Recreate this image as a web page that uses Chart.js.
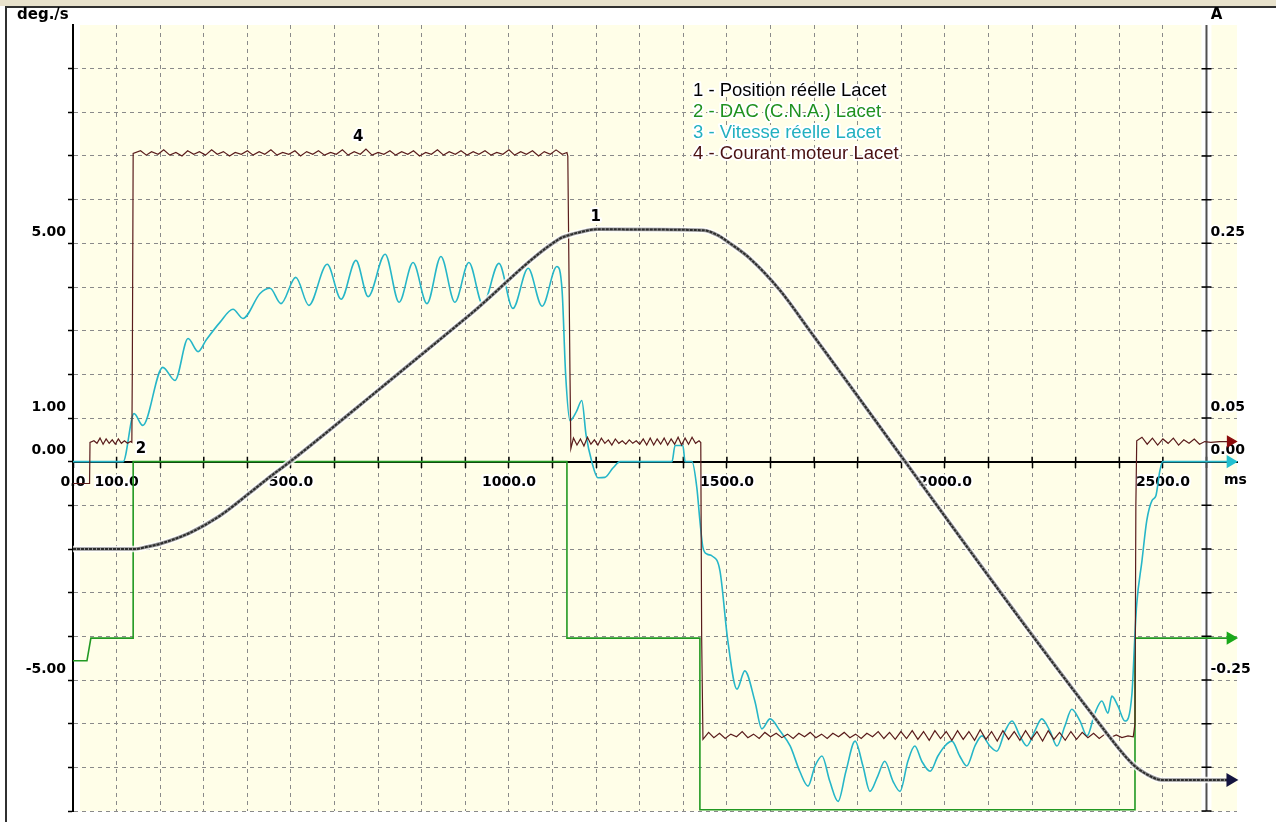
<!DOCTYPE html>
<html>
<head>
<meta charset="utf-8">
<script src="https://cdn.jsdelivr.net/npm/chart.js@4.4.1/dist/chart.umd.min.js"></script>
<style>
  html, body { margin: 0; padding: 0; background: #fff; }
</style>
</head>
<body>
<canvas id="scope" width="1276" height="822"></canvas>
<script>
// Time axis (ms) and tick labels
const timeLabels = [0, 100, 500, 1000, 1500, 2000, 2500];
const degLabels = [5, 1, 0, -5];
const ampLabels = [0.25, 0.05, 0, -0.25];

const legendLines = [
    { text: "1 - Position réelle Lacet", color: "#000000" },
    { text: "2 - DAC (C.N.A.) Lacet", color: "#1f911f" },
    { text: "3 - Vitesse réelle Lacet", color: "#22b0c0" },
    { text: "4 - Courant moteur Lacet", color: "#4a1212" },
];

// Curve numbers written on the plot [ms, deg./s]
const markers = [
    { text: "1", t: 1199, v: 5.6 },
    { text: "2", t: 156, v: 0.28 },
    { text: "4", t: 654, v: 7.43 },
];

// 1 - Position réelle (left axis)
const position = [
    [0, -2.0], [142, -2.0], [170, -1.95], [200, -1.88], [268, -1.63], [337, -1.24],
    [406, -0.71], [450, -0.36], [498, 0], [704, 1.67], [911, 3.37], [1117, 5.11],
    [1135, 5.18], [1161, 5.25], [1201, 5.32], [1445, 5.30], [1480, 5.18], [1507, 5.0],
    [1552, 4.66], [1622, 3.92], [1690, 3.0], [2355, -6.01], [2431, -6.93], [2463, -7.16],
    [2498, -7.29], [2655, -7.29],
];

// 2 - DAC (left axis)
const dac = [
    [0, -4.56], [32, -4.56], [41, -4.04], [138, -4.04], [138, 0], [1133, 0],
    [1133, -4.04], [1438, -4.04], [1438, -7.97], [2436, -7.97], [2436, -4.04], [2655, -4.04],
];

// 3 - Vitesse réelle (left axis)
const vitesse = [
    [0, 0], [115, 0], [140, 1.1], [160, 0.83], [206, 2.16], [234, 1.86], [264, 2.82],
    [287, 2.52], [305, 2.78], [337, 3.19], [367, 3.49], [390, 3.28], [429, 3.85],
    [452, 3.97], [477, 3.62], [511, 4.22], [541, 3.58], [583, 4.52], [615, 3.72],
    [649, 4.61], [677, 3.78], [716, 4.75], [748, 3.65], [780, 4.56], [812, 3.62],
    [844, 4.70], [876, 3.65], [908, 4.56], [940, 3.60], [977, 4.54], [1009, 3.51],
    [1044, 4.43], [1076, 3.56], [1110, 4.47], [1122, 3.9], [1130, 2.0], [1140, 0.94],
    [1155, 1.15], [1167, 1.4], [1177, 0.6], [1190, 0], [1204, -0.37], [1220, -0.36],
    [1239, -0.14], [1255, 0], [1374, 0], [1381, 0.37], [1399, 0.37], [1404, 0],
    [1420, 0], [1431, -0.6], [1438, -1.35], [1445, -1.97], [1455, -2.12], [1466, -2.16],
    [1484, -2.5], [1502, -4.1], [1523, -5.21], [1541, -4.79], [1564, -5.48], [1580, -6.12],
    [1599, -5.89], [1622, -6.17], [1645, -6.51], [1667, -7.09], [1686, -7.43], [1702, -6.97],
    [1718, -6.74], [1736, -7.32], [1755, -7.78], [1773, -7.09], [1794, -6.40], [1812, -6.97],
    [1828, -7.55], [1846, -7.20], [1862, -6.86], [1881, -7.32], [1897, -7.55], [1915, -6.86],
    [1931, -6.51], [1947, -6.86], [1966, -7.09], [1984, -6.74], [2000, -6.51], [2016, -6.40],
    [2034, -6.74], [2050, -6.97], [2069, -6.51], [2085, -6.28], [2103, -6.51], [2119, -6.63],
    [2138, -6.17], [2154, -5.94], [2172, -6.28], [2188, -6.51], [2206, -6.17], [2222, -5.89],
    [2241, -6.17], [2257, -6.51], [2275, -6.06], [2291, -5.67], [2310, -5.94], [2326, -6.28],
    [2344, -5.76], [2360, -5.48], [2374, -5.76], [2383, -5.37], [2397, -5.60], [2413, -5.94],
    [2429, -5.32], [2436, -3.94], [2440, -3.26], [2452, -2.27], [2463, -1.35], [2475, -0.89],
    [2484, -0.78], [2493, -0.21], [2500, 0], [2655, 0],
];

// 4 - Courant moteur (right axis, A)
const courant = [
    [0, -0.025], [38, -0.025], [39, 0.022], [48, 0.024], [55, 0.021], [62, 0.027],
    [69, 0.020], [76, 0.026], [83, 0.021], [90, 0.025], [97, 0.020], [104, 0.026],
    [111, 0.021], [118, 0.024], [125, 0.021], [132, 0.023], [135, 0.022], [136, 0.10],
    [138, 0.353], [155, 0.356], [168, 0.351], [180, 0.355], [195, 0.352], [208, 0.357],
    [222, 0.351], [236, 0.354], [250, 0.350], [263, 0.356], [277, 0.352], [290, 0.355],
    [304, 0.351], [318, 0.357], [331, 0.352], [345, 0.355], [359, 0.350], [372, 0.354],
    [386, 0.352], [400, 0.356], [413, 0.351], [427, 0.355], [440, 0.352], [454, 0.357],
    [468, 0.351], [481, 0.354], [495, 0.352], [509, 0.356], [522, 0.350], [536, 0.355],
    [550, 0.352], [563, 0.356], [577, 0.351], [591, 0.354], [604, 0.352], [618, 0.357],
    [631, 0.351], [645, 0.355], [659, 0.352], [672, 0.358], [686, 0.351], [700, 0.354],
    [713, 0.352], [727, 0.356], [740, 0.351], [754, 0.355], [768, 0.352], [781, 0.356],
    [795, 0.350], [809, 0.354], [822, 0.352], [836, 0.357], [850, 0.351], [863, 0.355],
    [877, 0.352], [890, 0.356], [904, 0.351], [918, 0.355], [931, 0.352], [945, 0.356],
    [959, 0.351], [972, 0.354], [986, 0.352], [1000, 0.357], [1013, 0.351], [1027, 0.355],
    [1040, 0.352], [1054, 0.356], [1068, 0.350], [1081, 0.355], [1095, 0.352], [1108, 0.357],
    [1122, 0.352], [1133, 0.354], [1135, 0.35], [1140, 0.10], [1142, 0.015], [1148, 0.027],
    [1156, 0.019], [1164, 0.026], [1172, 0.018], [1180, 0.028], [1188, 0.020], [1196, 0.025],
    [1204, 0.019], [1212, 0.027], [1220, 0.021], [1228, 0.025], [1236, 0.019], [1244, 0.026],
    [1252, 0.021], [1260, 0.024], [1268, 0.020], [1276, 0.025], [1284, 0.021], [1292, 0.024],
    [1300, 0.020], [1308, 0.026], [1316, 0.019], [1324, 0.027], [1332, 0.019], [1340, 0.026],
    [1348, 0.020], [1356, 0.027], [1364, 0.019], [1372, 0.026], [1380, 0.020], [1388, 0.028],
    [1396, 0.019], [1404, 0.027], [1412, 0.020], [1420, 0.028], [1428, 0.021], [1436, 0.024],
    [1440, 0.022], [1442, -0.20], [1445, -0.318], [1458, -0.310], [1470, -0.316], [1483, -0.311],
    [1496, -0.317], [1509, -0.312], [1522, -0.315], [1535, -0.309], [1548, -0.316], [1561, -0.312],
    [1574, -0.317], [1587, -0.310], [1600, -0.315], [1613, -0.311], [1626, -0.316], [1639, -0.312],
    [1652, -0.317], [1665, -0.311], [1678, -0.315], [1691, -0.310], [1704, -0.316], [1717, -0.312],
    [1730, -0.317], [1743, -0.311], [1756, -0.315], [1769, -0.310], [1782, -0.316], [1795, -0.312],
    [1808, -0.317], [1821, -0.311], [1834, -0.315], [1847, -0.309], [1860, -0.317], [1873, -0.310],
    [1886, -0.318], [1899, -0.309], [1912, -0.317], [1925, -0.308], [1938, -0.318], [1951, -0.309],
    [1964, -0.319], [1977, -0.308], [1990, -0.317], [2003, -0.309], [2016, -0.319], [2029, -0.308],
    [2042, -0.318], [2055, -0.309], [2068, -0.319], [2081, -0.307], [2094, -0.318], [2107, -0.309],
    [2120, -0.320], [2133, -0.308], [2146, -0.318], [2159, -0.309], [2172, -0.319], [2185, -0.308],
    [2198, -0.318], [2211, -0.309], [2224, -0.320], [2237, -0.308], [2250, -0.318], [2263, -0.310],
    [2276, -0.319], [2289, -0.309], [2302, -0.318], [2315, -0.310], [2328, -0.316], [2341, -0.311],
    [2354, -0.317], [2367, -0.312], [2380, -0.316], [2393, -0.313], [2406, -0.316], [2420, -0.314],
    [2432, -0.315], [2436, -0.30], [2438, -0.05], [2440, 0.024], [2452, 0.028], [2464, 0.020],
    [2476, 0.027], [2488, 0.019], [2500, 0.026], [2512, 0.021], [2524, 0.027], [2536, 0.019],
    [2548, 0.025], [2560, 0.021], [2572, 0.026], [2584, 0.020], [2596, 0.023], [2610, 0.022],
    [2630, 0.023], [2655, 0.023],
];

const RIGHT_AXIS_MS = 2600;
const labelFont = { family: "DejaVu Sans", size: 14, weight: "bold" };

// small triangle on the last point of a trace
function arrowRadius(c) {
    return c.dataIndex === c.dataset.data.length - 1 ? 6 : 0;
}

function haloText(ctx, text, x, y, color, width) {
    ctx.lineJoin = "round";
    ctx.lineWidth = width;
    ctx.strokeStyle = "#ffffff";
    ctx.strokeText(text, x, y);
    ctx.fillStyle = color;
    ctx.fillText(text, x, y);
}

// Paper background, frame and yellow plot area
const scopeBackground = {
    id: "scopeBackground",
    beforeDraw(chart) {
        const { ctx, chartArea: a, scales } = chart;
        const rx = scales.x.getPixelForValue(RIGHT_AXIS_MS);
        ctx.save();
        ctx.fillStyle = "#ffffff";
        ctx.fillRect(0, 0, chart.width, chart.height);
        ctx.fillStyle = "#e8e2cc";
        ctx.fillRect(0, 0, chart.width, 6);
        ctx.fillStyle = "#fffee8";
        ctx.fillRect(a.left + 7, a.top, a.right - a.left - 7, a.bottom - a.top);
        ctx.fillStyle = "#ffffff";
        ctx.fillRect(rx - 5, a.top, 10, a.bottom - a.top);
        ctx.strokeStyle = "#303030";
        ctx.lineWidth = 2;
        ctx.beginPath();
        ctx.moveTo(5, 7);
        ctx.lineTo(chart.width, 7);
        ctx.moveTo(6, 7);
        ctx.lineTo(6, chart.height);
        ctx.stroke();
        ctx.restore();
    },
    beforeDatasetsDraw(chart) {
        const { ctx, chartArea: a, scales } = chart;
        const rx = scales.x.getPixelForValue(RIGHT_AXIS_MS);
        const y0 = scales.y.getPixelForValue(0);
        ctx.save();
        // upper half of the crossing ticks on the time axis
        ctx.strokeStyle = "#000000";
        ctx.lineWidth = 1.5;
        ctx.beginPath();
        scales.x.ticks.forEach((t) => {
            if (t.value === 0) return;
            const px = scales.x.getPixelForValue(t.value);
            ctx.moveTo(px, y0 - 5);
            ctx.lineTo(px, y0);
        });
        ctx.stroke();
        // right axis (A)
        ctx.strokeStyle = "#505050";
        ctx.lineWidth = 2;
        ctx.beginPath();
        ctx.moveTo(rx, a.top);
        ctx.lineTo(rx, a.bottom);
        ctx.stroke();
        ctx.strokeStyle = "#000000";
        ctx.lineWidth = 1.5;
        ctx.beginPath();
        scales.y.ticks.forEach((t) => {
            if (t.value === 10) return;
            const py = scales.y.getPixelForValue(t.value);
            ctx.moveTo(rx - 5, py);
            ctx.lineTo(rx + 5, py);
        });
        ctx.stroke();
        ctx.font = 'bold 14px "DejaVu Sans"';
        ctx.textAlign = "left";
        ctx.textBaseline = "middle";
        ampLabels.forEach((v) => {
            const py = scales.y2.getPixelForValue(v) - 11;
            haloText(ctx, v.toFixed(2), rx + 4, py, "#000000", 3);
        });
        ctx.restore();
    },
    afterDatasetsDraw(chart) {
        const { ctx, chartArea: a, scales } = chart;
        const y0 = scales.y.getPixelForValue(0);
        ctx.save();
        ctx.textBaseline = "middle";
        ctx.font = 'bold 15px "DejaVu Sans"';
        ctx.textAlign = "left";
        ctx.fillStyle = "#000000";
        ctx.fillText("deg./s", 17, 15);
        ctx.textAlign = "center";
        ctx.fillText("A", scales.x.getPixelForValue(RIGHT_AXIS_MS) + 10, 15);
        ctx.font = 'bold 14px "DejaVu Sans"';
        ctx.textAlign = "left";
        haloText(ctx, "ms", a.right - 13, y0 + 19, "#000000", 3);

        // curve numbers
        ctx.font = 'bold 15px "DejaVu Sans"';
        ctx.textAlign = "center";
        markers.forEach((m) => {
            haloText(ctx, m.text, scales.x.getPixelForValue(m.t), scales.y.getPixelForValue(m.v), "#000000", 4);
        });

        // legend
        ctx.font = '18.5px "Liberation Sans"';
        ctx.textAlign = "left";
        legendLines.forEach((l, i) => {
            haloText(ctx, l.text, 693, 91 + i * 21, l.color, 4);
        });
        ctx.restore();
    },
};

const ctx = document.getElementById("scope").getContext("2d");

new Chart(ctx, {
    type: "line",
    data: {
        datasets: [
            {
                label: "1 - Position réelle Lacet",
                data: position,
                borderColor: "#2c2c2c",
                borderWidth: 2,
                borderDash: [3, 1],
                cubicInterpolationMode: "monotone",
                pointRadius: arrowRadius,
                pointStyle: "triangle",
                pointRotation: 90,
                pointBackgroundColor: "#141440",
                pointBorderColor: "#141440",
                order: 1,
            },
            {
                label: "position band",
                data: position,
                borderColor: "#959595",
                borderWidth: 3.5,
                cubicInterpolationMode: "monotone",
                pointRadius: 0,
                order: 2,
            },
            {
                label: "position halo",
                data: position,
                borderColor: "rgba(255,255,255,0.8)",
                borderWidth: 6.5,
                cubicInterpolationMode: "monotone",
                pointRadius: 0,
                order: 3,
            },
            {
                label: "4 - Courant moteur Lacet",
                data: courant,
                yAxisID: "y2",
                borderColor: "#5a1c1c",
                borderWidth: 1.2,
                tension: 0,
                pointRadius: arrowRadius,
                pointStyle: "triangle",
                pointRotation: 90,
                pointBackgroundColor: "#8b0a0a",
                pointBorderColor: "#8b0a0a",
                order: 4,
            },
            {
                label: "3 - Vitesse réelle Lacet",
                data: vitesse,
                borderColor: "#26b6c8",
                borderWidth: 1.6,
                cubicInterpolationMode: "monotone",
                pointRadius: arrowRadius,
                pointStyle: "triangle",
                pointRotation: 90,
                pointBackgroundColor: "#22c0d0",
                pointBorderColor: "#22c0d0",
                order: 5,
            },
            {
                label: "2 - DAC (C.N.A.) Lacet",
                data: dac,
                borderColor: "#229922",
                borderWidth: 1.6,
                tension: 0,
                pointRadius: arrowRadius,
                pointStyle: "triangle",
                pointRotation: 90,
                pointBackgroundColor: "#1aa81a",
                pointBorderColor: "#1aa81a",
                order: 6,
            },
        ],
    },
    options: {
        responsive: false,
        devicePixelRatio: 1,
        animation: false,
        clip: false,
        layout: { padding: { left: 0, right: 39, top: 25, bottom: 11 } },
        plugins: {
            legend: { display: false },
            tooltip: { enabled: false },
        },
        scales: {
            x: {
                type: "linear",
                min: 0,
                max: 2670,
                position: { y: 0 },
                ticks: {
                    stepSize: 100,
                    includeBounds: false,
                    autoSkip: false,
                    maxRotation: 0,
                    padding: 7,
                    color: "#000000",
                    font: labelFont,
                    textStrokeColor: "#ffffff",
                    textStrokeWidth: 4,
                    callback: (v) => (timeLabels.includes(v) ? v.toFixed(1) : ""),
                },
                grid: {
                    color: (c) => (c.tick && c.tick.value === 0 ? "rgba(0,0,0,0)" : "#8a8a8a"),
                    lineWidth: 1,
                    tickLength: 5,
                    tickColor: "#000000",
                    tickWidth: 1.5,
                    tickBorderDash: [],
                },
                border: { color: "#000000", width: 2, dash: [4, 4] },
            },
            y: {
                type: "linear",
                position: "left",
                min: -8,
                max: 10,
                afterFit: (s) => {
                    s.width = 73;
                },
                ticks: {
                    stepSize: 1,
                    autoSkip: false,
                    padding: 2,
                    labelOffset: -11,
                    color: "#000000",
                    font: labelFont,
                    textStrokeColor: "#ffffff",
                    textStrokeWidth: 3,
                    callback: (v) => (degLabels.includes(v) ? v.toFixed(2) : ""),
                },
                grid: {
                    color: (c) =>
                        c.tick && (c.tick.value === 0 || c.tick.value === 10) ? "rgba(0,0,0,0)" : "#8a8a8a",
                    lineWidth: 1,
                    tickLength: 5,
                    tickColor: (c) => (c.tick && c.tick.value === 10 ? "rgba(0,0,0,0)" : "#000000"),
                    tickWidth: 1.5,
                    tickBorderDash: [],
                },
                border: { color: "#000000", width: 2, dash: [4, 4] },
            },
            y2: {
                type: "linear",
                position: "right",
                min: -0.4,
                max: 0.5,
                display: false,
            },
        },
    },
    plugins: [scopeBackground],
});
</script>
</body>
</html>
